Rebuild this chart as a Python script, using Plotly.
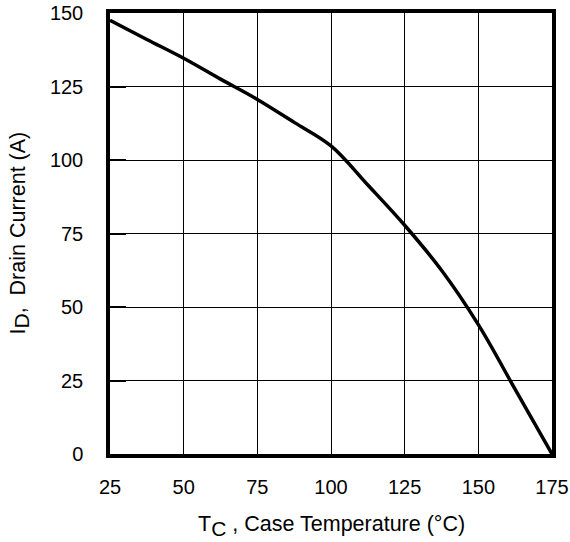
import plotly.graph_objects as go

temp_c = [25, 37.5, 50, 62.5, 75, 87.5, 100, 112.5, 125, 137.5, 150, 162.5, 175]
drain_a = [147.5, 141, 134.6, 127.5, 120.6, 112.8, 104.8, 91.5, 77.8, 62.5, 44, 22, 0]

x_ticks = [25, 50, 75, 100, 125, 150, 175]
y_ticks = [0, 25, 50, 75, 100, 125, 150]

x_title = "T<sub><span style=\"font-size:21px\">C</span></sub> , Case Temperature (°C)"
y_title = "I<sub><span style=\"font-size:21px\">D</span></sub>,  Drain Current (A)"

fig = go.Figure()
fig.add_trace(go.Scatter(x=temp_c, y=drain_a, mode="lines",
                         line=dict(color="black", width=3.5, shape="spline", smoothing=1),
                         showlegend=False, hoverinfo="skip"))

fam = "Liberation Sans, Arial, Helvetica, sans-serif"
tick_font = dict(family=fam, size=20, color="black")
title_font = dict(family=fam, size=21.5, color="black")

fig.update_layout(
    width=570, height=542,
    margin=dict(l=110, r=18, t=13, b=88),
    paper_bgcolor="white", plot_bgcolor="white",
    font=tick_font,
    xaxis=dict(range=[25, 175], tickvals=x_ticks, ticks="", showgrid=True,
               gridcolor="black", gridwidth=1.3, showline=True, linecolor="black",
               linewidth=3.5, mirror=True, zeroline=False, ticklabelstandoff=12,
               ticklabeloverflow="allow", automargin=False, tickfont=tick_font),
    yaxis=dict(range=[0, 150], tickvals=y_ticks, ticks="inside", ticklen=16, tickwidth=2.2,
               tickcolor="black", showgrid=True, gridcolor="black", gridwidth=1.3,
               showline=True, linecolor="black", linewidth=3.5, mirror=True, zeroline=False,
               ticklabelstandoff=19, ticklabeloverflow="allow", automargin=False,
               tickfont=tick_font),
    annotations=[
        dict(text=x_title, xref="paper", yref="paper", x=0.5, y=0, xanchor="center",
             yanchor="middle", yshift=-72, showarrow=False, font=title_font),
        dict(text=y_title, xref="paper", yref="paper", x=0, y=0.5, xanchor="center",
             yanchor="middle", xshift=-91, textangle=-90, showarrow=False, font=title_font),
    ],
)

fig.write_html("out.html", config={"displayModeBar": False},
               post_script="document.body.style.margin='0';")
